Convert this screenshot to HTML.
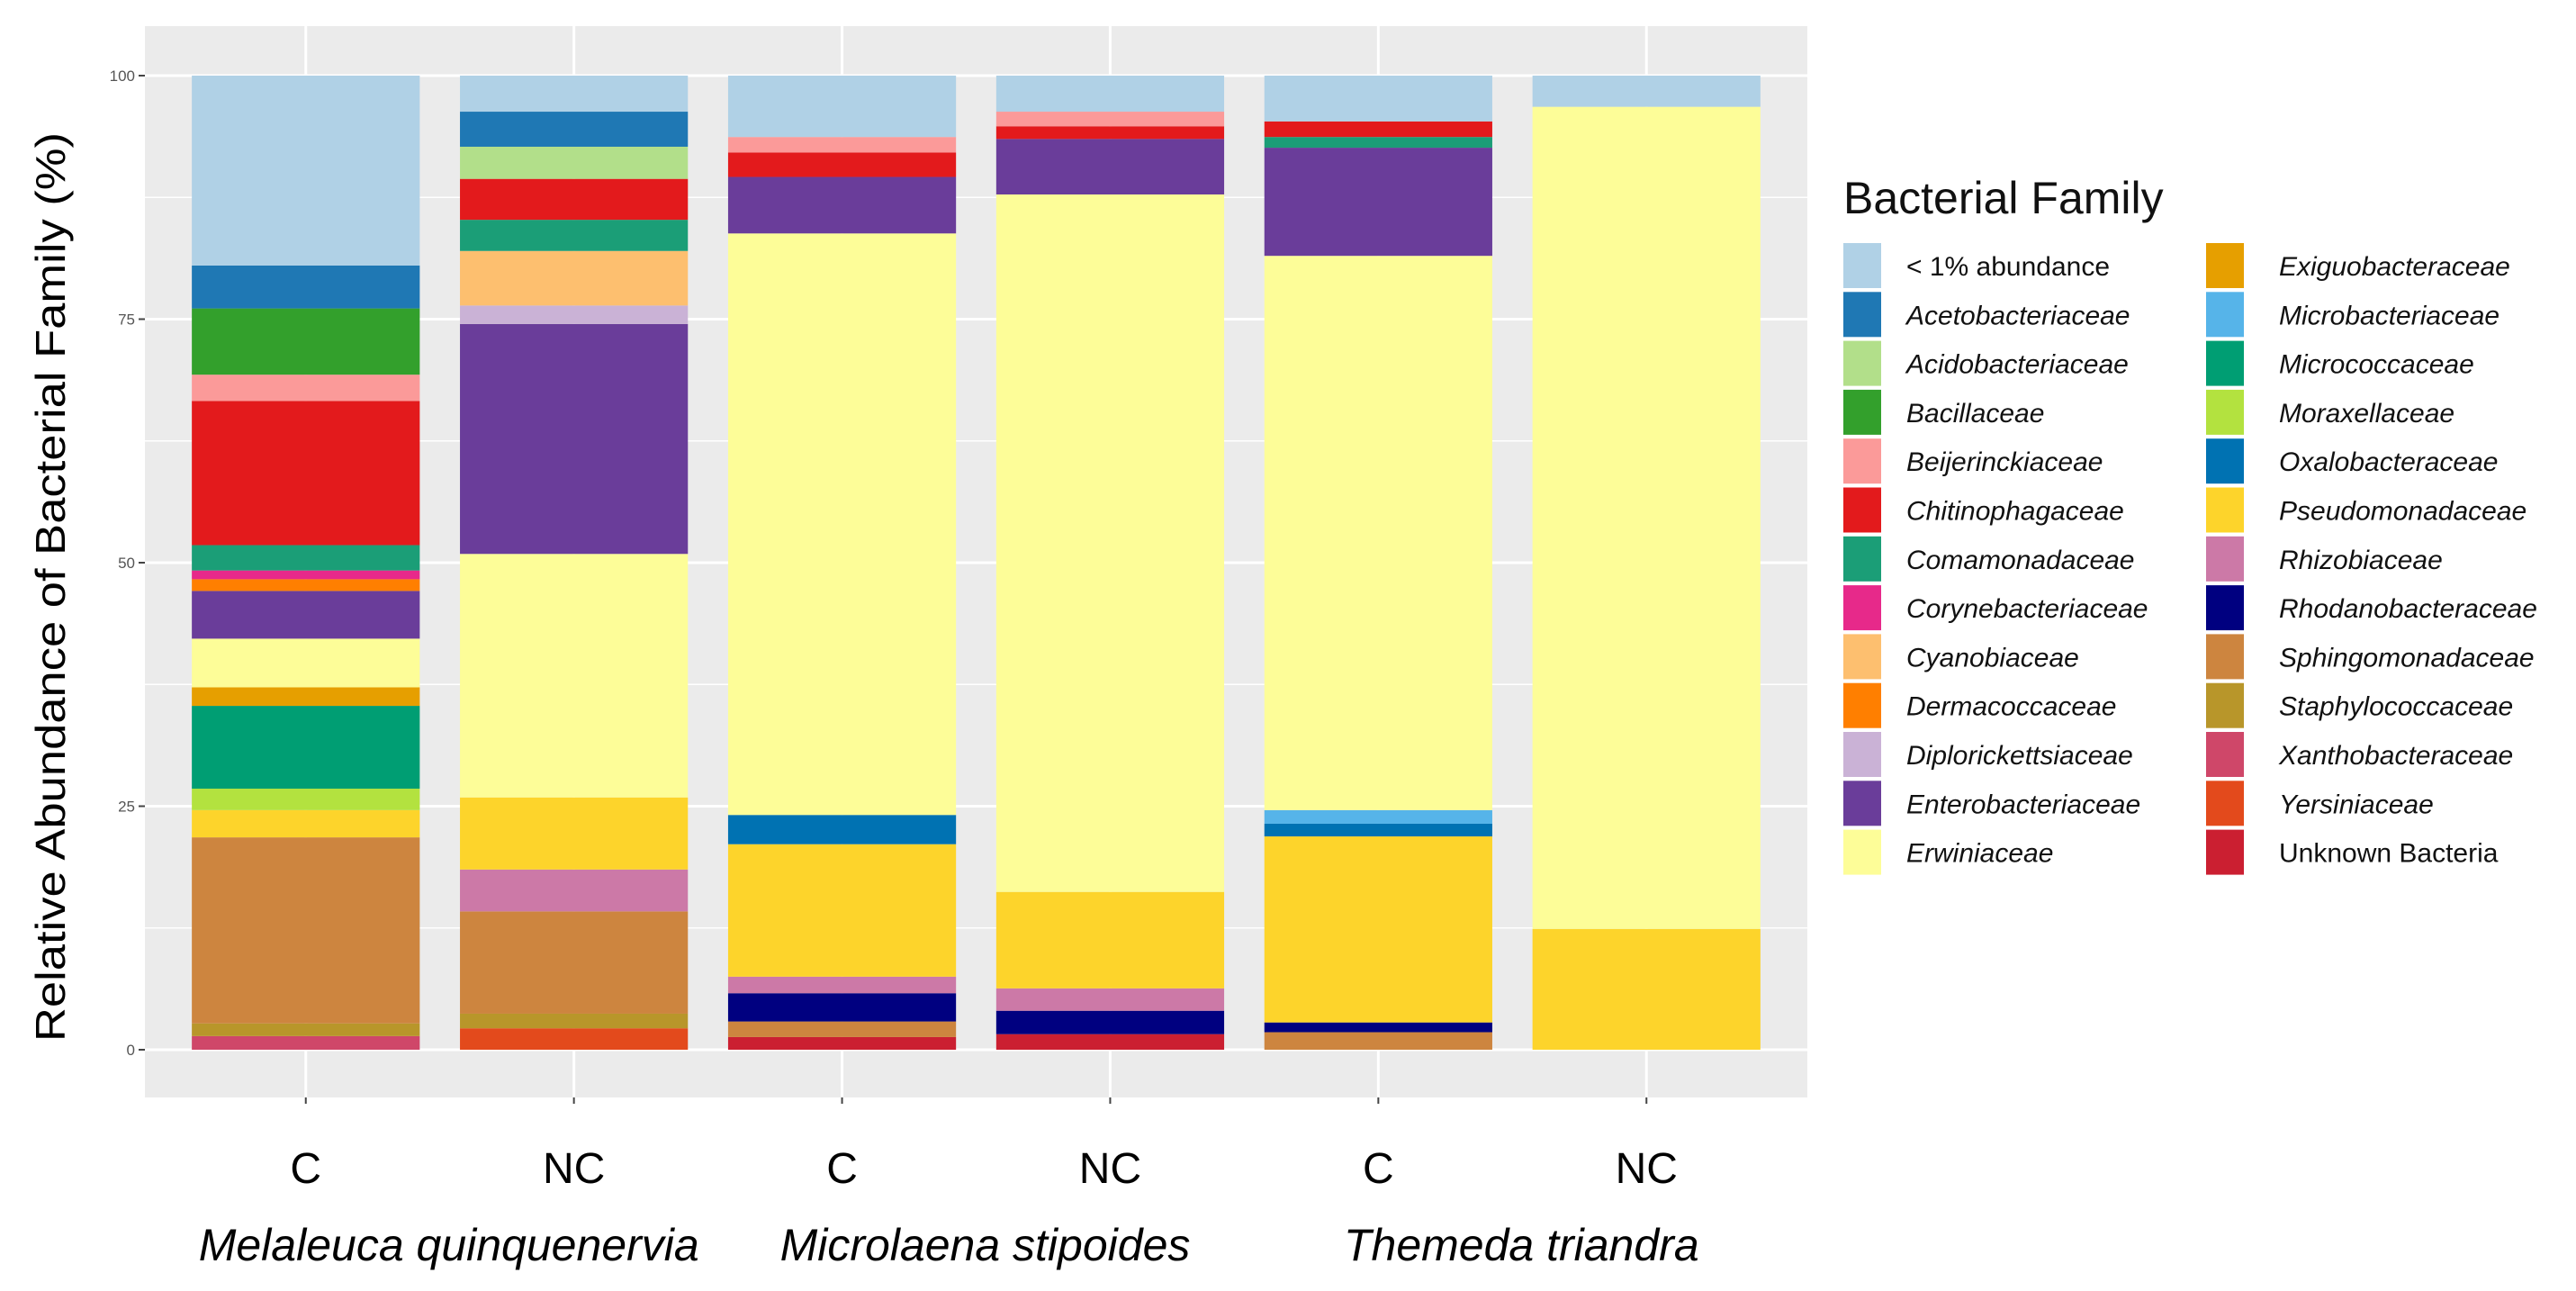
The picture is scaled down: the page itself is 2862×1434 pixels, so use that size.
<!DOCTYPE html>
<html><head><meta charset="utf-8"><style>
html,body{margin:0;padding:0;background:#fff;}
svg{display:block;}
</style></head><body>
<svg id="chart" width="2862" height="1434" xmlns="http://www.w3.org/2000/svg">
<rect x="161" y="29" width="1847" height="1190" fill="#ebebeb"/>
<g id="grid"></g>
<g id="bars"></g>
<g id="axes"></g>
<text transform="translate(72,652) rotate(-90)" text-anchor="middle" font-family="Liberation Sans, sans-serif" font-size="46" fill="#000" textLength="1010" lengthAdjust="spacingAndGlyphs">Relative Abundance of Bacterial Family (%)</text>
<g id="legend">
<text x="2048" y="237" font-family="Liberation Sans, sans-serif" font-size="50" fill="#111">Bacterial Family</text>
</g>
</svg>
<script>
const samples = ["C","NC","C","NC","C","NC"];
const species = ["Melaleuca quinquenervia","Microlaena stipoides","Themeda triandra"];
const families = ["< 1% abundance","Acetobacteriaceae","Acidobacteriaceae","Bacillaceae","Beijerinckiaceae","Chitinophagaceae","Comamonadaceae","Corynebacteriaceae","Cyanobiaceae","Dermacoccaceae","Diplorickettsiaceae","Enterobacteriaceae","Erwiniaceae","Exiguobacteraceae","Microbacteriaceae","Micrococcaceae","Moraxellaceae","Oxalobacteraceae","Pseudomonadaceae","Rhizobiaceae","Rhodanobacteraceae","Sphingomonadaceae","Staphylococcaceae","Xanthobacteraceae","Yersiniaceae","Unknown Bacteria"];
const colors = ["#b0d1e6","#1f78b4","#b2df8a","#33a02c","#fb9a99","#e31a1c","#1b9e77","#e7298a","#fdbf6f","#ff7f00","#cab2d6","#6a3d9a","#fdfd98","#e69f00","#56b4e9","#009e73","#b3e23f","#0072b2","#fdd42b","#cc79a7","#000080","#cd853f","#b8962a","#cf4769","#e34a1c","#cb1f31"];
// values per family across the 6 samples (%)
const vLess1   = [19.5,3.7,6.3,3.7,4.7,3.2];
const vAceto   = [4.4,3.6,0,0,0,0];
const vAcido   = [0,3.3,0,0,0,0];
const vBacil   = [6.8,0,0,0,0,0];
const vBeij    = [2.7,0,1.6,1.5,0,0];
const vChit    = [14.8,4.2,2.5,1.3,1.6,0];
const vComa    = [2.6,3.2,0,0,1.1,0];
const vCory    = [0.9,0,0,0,0,0];
const vCyano   = [0,5.6,0,0,0,0];
const vDerm    = [1.2,0,0,0,0,0];
const vDiplo   = [0,1.9,0,0,0,0];
const vEntero  = [4.9,23.6,5.8,5.7,11.1,0];
const vErwin   = [5.0,25.0,59.7,71.6,56.9,84.4];
const vExig    = [1.9,0,0,0,0,0];
const vMicrob  = [0,0,0,0,1.4,0];
const vMicroc  = [8.5,0,0,0,0,0];
const vMorax   = [2.2,0,0,0,0,0];
const vOxalo   = [0,0,3.0,0,1.3,0];
const vPseudo  = [2.8,7.4,13.6,9.9,19.1,12.4];
const vRhizo   = [0,4.3,1.7,2.3,0,0];
const vRhodan  = [0,0,2.9,2.4,1.0,0];
const vSphingo = [19.1,10.5,1.6,0,1.8,0];
const vStaph   = [1.3,1.5,0,0,0,0];
const vXantho  = [1.4,0,0,0,0,0];
const vYersin  = [0,2.2,0,0,0,0];
const vUnknown = [0,0,1.3,1.6,0,0];
const seriesValues = [vLess1,vAceto,vAcido,vBacil,vBeij,vChit,vComa,vCory,vCyano,vDerm,vDiplo,vEntero,vErwin,vExig,vMicrob,vMicroc,vMorax,vOxalo,vPseudo,vRhizo,vRhodan,vSphingo,vStaph,vXantho,vYersin,vUnknown];
const yTicks = [0,25,50,75,100];

const NS="http://www.w3.org/2000/svg";
const panelL=161, panelR=2008, y0=1166, y100=84;
const step=(panelR-panelL)/6.2;
function xC(i){return panelL+step*(i+0.6);}
function yS(v){return y0+(y100-y0)*v/100;}
const barW=step*0.85;
function mk(tag,attrs,parent){const e=document.createElementNS(NS,tag);for(const k in attrs)e.setAttribute(k,attrs[k]);parent.appendChild(e);return e;}

const grid=document.getElementById('grid');
for(let v=12.5;v<100;v+=25){
  const l=mk('line',{x1:panelL,x2:panelR,y1:yS(v),y2:yS(v),stroke:'#fff','stroke-width':1.5},grid);
  
  
}
yTicks.forEach(v=>{
  const l=mk('line',{x1:panelL,x2:panelR,y1:yS(v),y2:yS(v),stroke:'#fff','stroke-width':3},grid);
  
  
});
samples.forEach((s,i)=>{
  const l=mk('line',{x1:xC(i),x2:xC(i),y1:29,y2:1219,stroke:'#fff','stroke-width':3},grid);
  
  
});

const bars=document.getElementById('bars');
samples.forEach((s,i)=>{
  let cum=0;
  for(let f=families.length-1;f>=0;f--){
    const v=seriesValues[f][i];
    if(!v) continue;
    const r=mk('rect',{x:xC(i)-barW/2,y:yS(cum+v),width:barW,height:yS(cum)-yS(cum+v),fill:colors[f]},bars);
    
    
    cum+=v;
  }
});

const axes=document.getElementById('axes');
yTicks.forEach(v=>{
  const t=mk('line',{x1:154,x2:161,y1:yS(v),y2:yS(v),stroke:'#444','stroke-width':2},axes);
  
  
  const tx=mk('text',{x:150,y:yS(v)+6,'text-anchor':'end','font-family':'Liberation Sans, sans-serif','font-size':17,fill:'#555'},axes);
  tx.textContent=v;
  
  
});
samples.forEach((s,i)=>{
  const t=mk('line',{x1:xC(i),x2:xC(i),y1:1219,y2:1226,stroke:'#444','stroke-width':2},axes);
  
  
  const tx=mk('text',{x:xC(i),y:1314,'text-anchor':'middle','font-family':'Liberation Sans, sans-serif','font-size':48,fill:'#000'},axes);
  tx.textContent=s;
  
  
});
species.forEach((sp,j)=>{
  const tx=mk('text',{x:(xC(2*j)+xC(2*j+1))/2+10,y:1400,'text-anchor':'middle','font-family':'Liberation Sans, sans-serif','font-size':50,'font-style':'italic',fill:'#000'},axes);
  tx.textContent=sp;
  
  
});

const legend=document.getElementById('legend');
families.forEach((f,k)=>{
  const col=k<13?0:1, row=k%13;
  const kx=col?2451:2048, tx=col?2532:2118;
  const ky=270+row*54.3;
  const r=mk('rect',{x:kx,y:ky,width:42,height:50,fill:colors[k]},legend);
  
  
  const plain=(k===0||k===25);
  const t=mk('text',{x:tx,y:ky+36,'font-family':'Liberation Sans, sans-serif','font-size':30,'font-style':plain?'normal':'italic',fill:'#111'},legend);
  t.textContent=f;
  
  
});
</script>
</body></html>
